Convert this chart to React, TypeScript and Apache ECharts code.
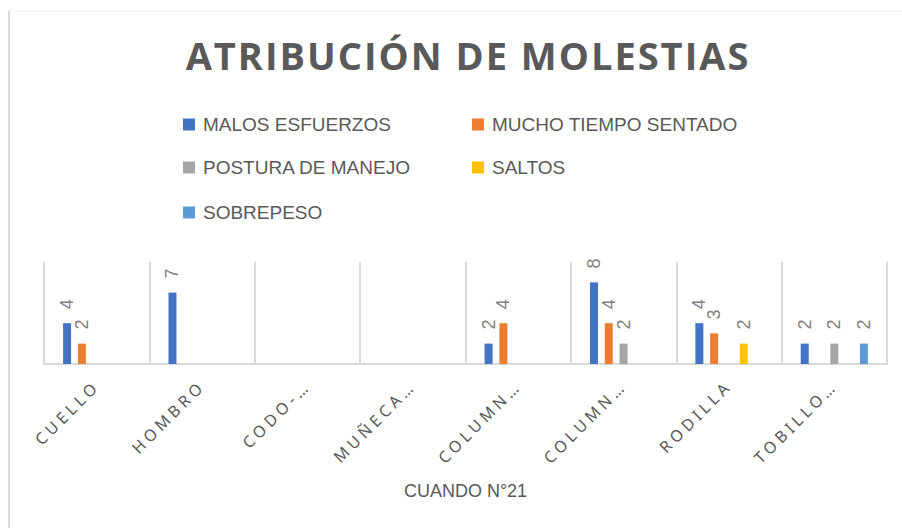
import React, { useEffect, useRef } from "react";
import * as echarts from "echarts";

const categories = ["CUELLO", "HOMBRO", "CODO-…", "MUÑECA…", "COLUMN…", "COLUMN…", "RODILLA", "TOBILLO…"];
const seriesNames = ["MALOS ESFUERZOS", "MUCHO TIEMPO SENTADO", "POSTURA DE MANEJO", "SALTOS", "SOBREPESO"];
const malosEsfuerzos = [4, 7, null, null, 2, 8, 4, 2];
const muchoTiempoSentado = [2, null, null, null, 4, 4, 3, null];
const posturaDeManejo = [null, null, null, null, null, 2, null, 2];
const saltos = [null, null, null, null, null, null, 2, null];
const sobrepeso = [null, null, null, null, null, null, null, 2];
const seriesValues = [malosEsfuerzos, muchoTiempoSentado, posturaDeManejo, saltos, sobrepeso];
const colors = ["#4472C4", "#ED7D31", "#A5A5A5", "#FFC000", "#5B9BD5"];
const title = "ATRIBUCIÓN DE MOLESTIAS";
const axisName = "CUANDO N°21";

const legendPos = [
  { left: 183, top: 115 },
  { left: 472, top: 115 },
  { left: 183, top: 158 },
  { left: 472, top: 158 },
  { left: 183, top: 203 },
];

const css = `
text[style*="Open Sans"] { letter-spacing: 2px; }
text[style*="Noto Sans"] { letter-spacing: 4px; }
`;

export default function App() {
  const ref = useRef<HTMLDivElement>(null);
  useEffect(() => {
    if (!ref.current) return;
    const chart = echarts.init(ref.current, null, { renderer: "svg" });
    const font = "'Liberation Sans', Arial, sans-serif";
    chart.setOption({
      animation: false,
      backgroundColor: "#ffffff",
      title: {
        text: title,
        left: 463,
        top: 31,
        textAlign: "center",
        textStyle: {
          fontFamily: "'Open Sans', sans-serif",
          fontWeight: "bold",
          fontSize: 38,
          color: "#595959",
        },
      },
      legend: seriesNames.map((n, i) => ({
        data: [n],
        left: legendPos[i].left,
        top: legendPos[i].top,
        padding: 0,
        itemWidth: 12,
        itemHeight: 12,
        itemGap: 8,
        icon: "rect",
        selectedMode: false,
        textStyle: { fontFamily: font, fontSize: 19, color: "#595959", padding: [0, 0, 0, 3] },
      })),
      graphic: [
        { type: "line", shape: { x1: 9, y1: 11, x2: 9, y2: 528 }, style: { stroke: "#d9d9d9", lineWidth: 2 } },
        { type: "line", shape: { x1: 9, y1: 11, x2: 902, y2: 11 }, style: { stroke: "#f0f0f0", lineWidth: 1 } },
      ],
      grid: { left: 44, right: 15, top: 262, bottom: 164, containLabel: false },
      xAxis: {
        type: "category",
        data: categories,
        name: axisName,
        nameLocation: "middle",
        nameGap: 118,
        nameTextStyle: { fontFamily: font, fontSize: 18, color: "#595959" },
        axisLine: { show: true, lineStyle: { color: "#d9d9d9", width: 2 } },
        axisTick: { show: false },
        splitLine: { show: true, lineStyle: { color: "#d9d9d9", width: 2 } },
        axisLabel: {
          rotate: 45,
          margin: 19,
          interval: 0,
          fontFamily: "'Noto Sans', sans-serif",
          fontSize: 16,
          color: "#595959",
        },
      },
      yAxis: {
        type: "value",
        min: 0,
        max: 10,
        show: false,
        splitLine: { show: false },
      },
      series: seriesNames.map((n, i) => ({
        name: n,
        type: "bar",
        data: seriesValues[i],
        barWidth: 8,
        barGap: "85%",
        itemStyle: { color: colors[i] },
        label: {
          show: true,
          position: "top",
          rotate: 90,
          align: "left",
          verticalAlign: "middle",
          distance: 14,
          fontFamily: font,
          fontSize: 18,
          color: "#808080",
        },
      })),
    });
    return () => chart.dispose();
  }, []);
  return (
    <>
      <style>{css}</style>
      <div ref={ref} style={{ position: "fixed", left: 0, top: 0, width: 902, height: 528 }} />
    </>
  );
}
